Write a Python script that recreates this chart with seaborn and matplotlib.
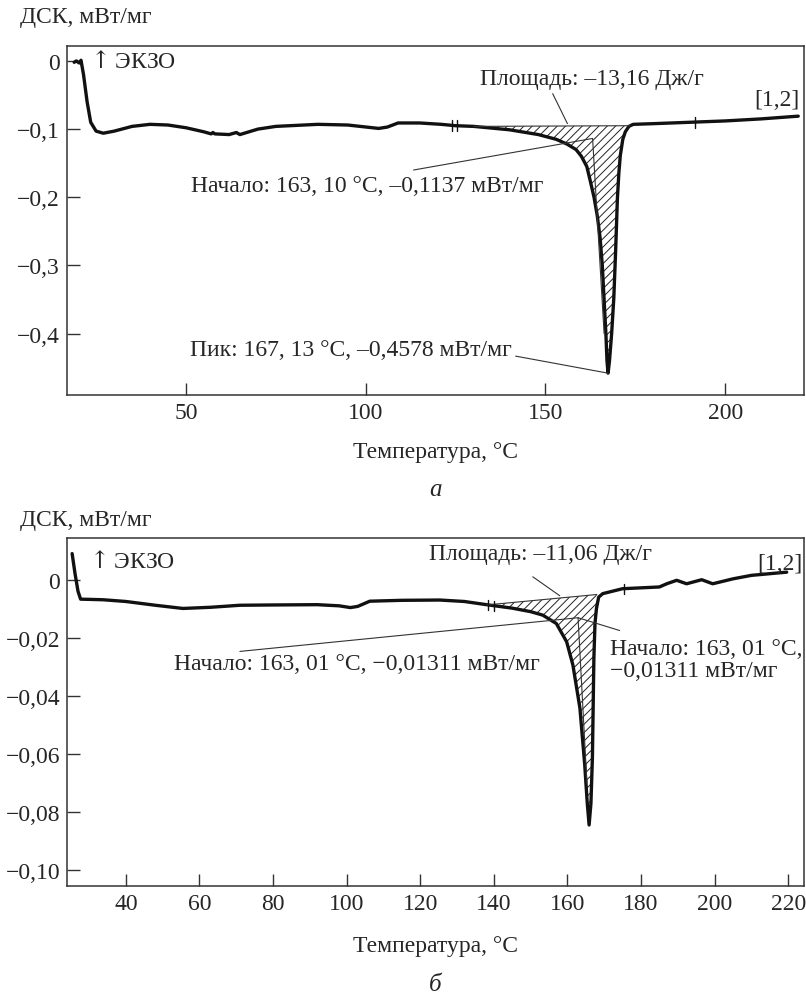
import matplotlib
matplotlib.use("Agg")
import matplotlib.pyplot as plt
import numpy as np
import pandas as pd
import seaborn as sns

# --- данные (а) ---
t_a = [18.9, 19.5, 20.3, 20.8, 21.5, 22.5, 23.5, 25, 27, 30, 35, 40, 45, 50, 55, 57, 57.5, 58,
       62, 64, 65, 70, 75, 86.7, 95, 103.6, 106, 109, 115, 121, 125, 130, 140, 148, 153, 156,
       158.5, 160, 161.5, 162.5, 163.5, 164.4, 165.2, 165.8, 166.4, 166.8, 167.1, 167.4, 167.8,
       168.4, 169, 169.5, 170, 170.4, 170.8, 171.5, 172.2, 173.2, 174.4, 180, 190, 200, 210, 220.3]
dsc_a = [-0.002, 0.0, -0.003, 0.001, -0.02, -0.06, -0.09, -0.103, -0.106, -0.103, -0.096, -0.093,
         -0.094, -0.098, -0.104, -0.107, -0.105, -0.107, -0.108, -0.105, -0.108, -0.100, -0.096,
         -0.093, -0.094, -0.099, -0.097, -0.091, -0.091, -0.093, -0.095, -0.096, -0.101, -0.108,
         -0.115, -0.122, -0.130, -0.140, -0.155, -0.177, -0.200, -0.227, -0.26, -0.30, -0.36,
         -0.40, -0.44, -0.458, -0.44, -0.40, -0.348, -0.28, -0.202, -0.165, -0.139, -0.115,
         -0.104, -0.096, -0.093, -0.092, -0.090, -0.088, -0.085, -0.081]
base_a = [(130, -0.096), (173.5, -0.095)]
onset_a = (163.1, -0.1137)
peak_a = (167.4, -0.458)
marks_a = [124, 125.3, 191.7]
yticks_a = [0, -0.1, -0.2, -0.3, -0.4]
ylabels_a = ["0", "−0,1", "−0,2", "−0,3", "−0,4"]
xticks_a = [50, 100, 150, 200]

# --- данные (б) ---
t_b = [25.4, 26.2, 27, 27.7, 33.8, 40, 48, 55.5, 63, 71, 80, 92, 98, 101, 103, 106.3, 115, 125.3,
       132, 138, 145, 150, 153.3, 157, 159.8, 161.5, 163.4, 164.7, 165.4, 165.9, 166.4, 166.8,
       167.2, 167.5, 167.9, 168.5, 169.6, 175, 180, 185, 187, 189.7, 192.4, 196.5, 199.5, 205,
       210, 219.6]
dsc_b = [0.009, 0.002, -0.004, -0.0067, -0.0069, -0.0075, -0.0088, -0.0099, -0.0095, -0.0088,
         -0.0087, -0.0086, -0.0090, -0.0096, -0.0092, -0.0074, -0.0071, -0.0070, -0.0075, -0.0086,
         -0.0098, -0.0110, -0.0122, -0.0151, -0.0214, -0.0294, -0.0442, -0.0636, -0.077, -0.0845,
         -0.077, -0.0613, -0.027, -0.015, -0.0099, -0.006, -0.0048, -0.0031, -0.0028, -0.0025,
         -0.0014, -0.0002, -0.0014, 0.0, -0.0014, 0.0003, 0.0015, 0.0026]
base_b = [(138, -0.0087), (168, -0.0051)]
onset_b = (162.9, -0.0131)
marks_b = [138.3, 140.0, 175.3]
yticks_b = [0, -0.02, -0.04, -0.06, -0.08, -0.10]
ylabels_b = ["0", "−0,02", "−0,04", "−0,06", "−0,08", "−0,10"]
xticks_b = [40, 60, 80, 100, 120, 140, 160, 180, 200, 220]

sns.set_theme(style="ticks")
plt.rcParams['font.family'] = ['Liberation Serif', 'DejaVu Serif']
plt.rcParams['hatch.linewidth'] = 0.7
plt.rcParams['mathtext.fontset'] = 'dejavuserif'
FS = 17

fig = plt.figure(figsize=(8.06, 10.03), dpi=100)
ax1 = fig.add_axes([0.0831, 0.6052, 0.9144, 0.348])
ax2 = fig.add_axes([0.0831, 0.1157, 0.9144, 0.347])


def base_line(base, t):
	(x0, y0), (x1, y1) = base
	return y0 + (np.asarray(t) - x0) * (y1 - y0) / (x1 - x0)


def draw(ax, t, dsc, base, marks, mark_h):
	df = pd.DataFrame({'T': t, 'DSC': dsc})
	sns.lineplot(data=df, x='T', y='DSC', ax=ax, color='#111111', linewidth=2.4, sort=False)
	# заштрихованная площадь пика
	t_arr = np.array(t)
	d_arr = np.array(dsc)
	sel = (t_arr >= base[0][0]) & (t_arr <= base[1][0])
	tt = np.concatenate([[base[0][0]], t_arr[sel], [base[1][0]]])
	dd = np.concatenate([[base[0][1]], d_arr[sel], [base[1][1]]])
	ax.fill_between(tt, dd, base_line(base, tt), facecolor='none', edgecolor='#222222',
	                hatch='////', linewidth=0)
	ax.plot([base[0][0], base[1][0]], [base[0][1], base[1][1]], color='#333333', lw=0.8)
	for m in marks:
		y = np.interp(m, t, dsc)
		ax.plot([m, m], [y - mark_h, y + mark_h], color='#111111', lw=1.0)
	ax.set_ylabel('')
	for s in ax.spines.values():
		s.set_linewidth(1.1)
		s.set_color('#333333')
	ax.tick_params(direction='in', length=9, width=1.0, labelsize=FS, color='#333333', pad=5)


draw(ax1, t_a, dsc_a, base_a, marks_a, 0.008)
ax1.set_xlabel('Температура, °С', fontsize=FS, labelpad=13)
ax1.set_xlim(16.9, 221.9)
ax1.set_ylim(-0.49, 0.022)
ax1.set_xticks(xticks_a)
ax1.set_xticklabels([str(v) for v in xticks_a])
ax1.set_yticks(yticks_a)
ax1.set_yticklabels(ylabels_a)
ax1.text(22.3, 0.0, r'$\uparrow$ЭКЗО', fontsize=FS, va='center', ha='left')
ax1.text(162.8, -0.026, 'Площадь: –13,16 Дж/г', fontsize=FS, ha='center', va='center')
ax1.plot([152, 156.1], [-0.048, -0.092], color='#333333', lw=0.8)
ax1.text(214.4, -0.056, '[1,2]', fontsize=FS, ha='center', va='center')
ax1.text(100.3, -0.183, 'Начало: 163, 10 °С, –0,1137 мВт/мг', fontsize=FS, ha='center', va='center')
ax1.plot([113.3, onset_a[0]], [-0.160, onset_a[1]], color='#333333', lw=0.8)
ax1.plot([onset_a[0], 166.3], [onset_a[1], -0.40], color='#333333', lw=0.8)
ax1.text(95.8, -0.423, 'Пик: 167, 13 °С, –0,4578 мВт/мг', fontsize=FS, ha='center', va='center')
ax1.plot([141.7, peak_a[0]], [-0.433, peak_a[1]], color='#333333', lw=0.8)

draw(ax2, t_b, dsc_b, base_b, marks_b, 0.0017)
ax2.set_xlabel('Температура, °С', fontsize=FS, labelpad=15)
ax2.set_xlim(24.0, 224.3)
ax2.set_ylim(-0.1055, 0.0144)
ax2.set_xticks(xticks_b)
ax2.set_xticklabels([str(v) for v in xticks_b])
ax2.set_yticks(yticks_b)
ax2.set_yticklabels(ylabels_b)
ax2.text(29.0, 0.0065, r'$\uparrow$ЭКЗО', fontsize=FS, va='center', ha='left')
ax2.text(152.8, 0.0089, 'Площадь: –11,06 Дж/г', fontsize=FS, ha='center', va='center')
ax2.plot([150.6, 157.9], [0.001, -0.0055], color='#333333', lw=0.8)
ax2.text(217.8, 0.0055, '[1,2]', fontsize=FS, ha='center', va='center')
ax2.text(102.8, -0.0288, 'Начало: 163, 01 °С, −0,01311 мВт/мг', fontsize=FS, ha='center', va='center')
ax2.plot([71, onset_b[0]], [-0.0247, onset_b[1]], color='#333333', lw=0.8)
ax2.plot([onset_b[0], 165.3], [onset_b[1], -0.07], color='#333333', lw=0.8)
ax2.plot([onset_b[0], 174.2], [onset_b[1], -0.0175], color='#333333', lw=0.8)
ax2.text(171.5, -0.0274, 'Начало: 163, 01 °С,\n−0,01311 мВт/мг', fontsize=FS, ha='left', va='center',
         linespacing=1.05)

fig.text(0.025, 0.983, 'ДСК, мВт/мг', fontsize=FS, ha='left', va='center')
fig.text(0.025, 0.481, 'ДСК, мВт/мг', fontsize=FS, ha='left', va='center')
fig.text(0.54, 1 - 490 / 1003, 'а', fontsize=FS + 1, style='italic', ha='center', va='center')
fig.text(0.54, 1 - 985 / 1003, 'б', fontsize=FS + 1, style='italic', ha='center', va='center')

fig.savefig('out.png', dpi=100)
